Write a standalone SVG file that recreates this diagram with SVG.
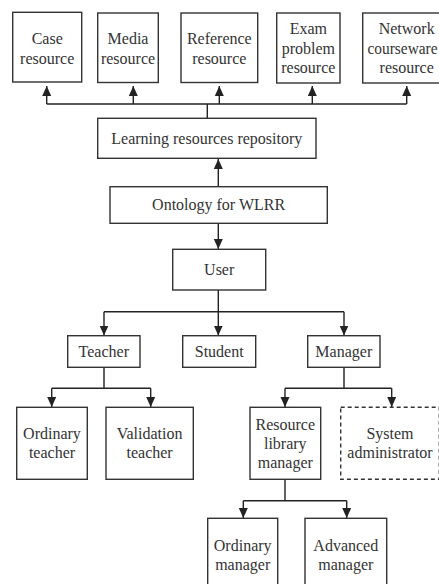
<svg xmlns="http://www.w3.org/2000/svg" width="439" height="584" viewBox="0 0 439 584">
<defs>
<marker id="ah" markerUnits="userSpaceOnUse" markerWidth="10" markerHeight="10" viewBox="0 0 10 10" refX="10" refY="5" orient="auto">
<path d="M0,0.5 L10,5 L0,9.5 Z" fill="#222"/>
</marker>
<style>
rect{fill:#fff;stroke:#333;stroke-width:1.4}
rect.dash{stroke-dasharray:4,3}
text{font-family:"Liberation Serif","Times New Roman",serif;font-size:16px;fill:#333;text-anchor:middle}
.c path{fill:none;stroke:#222;stroke-width:1.4}
</style>
</defs>
<rect x="0" y="0" width="439" height="584" style="fill:#fff;stroke:none"/>
<g class="c" id="connectors">
<path d="M46.7,104 H406.7"/>
<path d="M207.3,118.3 V104"/>
<path d="M46.7,104 V86" marker-end="url(#ah)"/>
<path d="M133.3,104 V86" marker-end="url(#ah)"/>
<path d="M219.3,104 V86" marker-end="url(#ah)"/>
<path d="M312.3,104 V86" marker-end="url(#ah)"/>
<path d="M406.7,104 V86" marker-end="url(#ah)"/>
<path d="M218.3,186.7 V159" marker-end="url(#ah)"/>
<path d="M218.3,223.3 V249" marker-end="url(#ah)"/>
<path d="M218.3,290 V335.5" marker-end="url(#ah)"/>
<path d="M104,311.7 H344"/>
<path d="M104,311.7 V335.5" marker-end="url(#ah)"/>
<path d="M344,311.7 V335.5" marker-end="url(#ah)"/>
<path d="M104,367.3 V388.3 M51.7,388.3 H150.7"/>
<path d="M51.7,388.3 V407" marker-end="url(#ah)"/>
<path d="M150.7,388.3 V407" marker-end="url(#ah)"/>
<path d="M344,367.3 V388.3 M285,388.3 H391.7"/>
<path d="M285,388.3 V407" marker-end="url(#ah)"/>
<path d="M391.7,388.3 V407" marker-end="url(#ah)"/>
<path d="M285,479.3 V500.7 M243.3,500.7 H346.7"/>
<path d="M243.3,500.7 V518" marker-end="url(#ah)"/>
<path d="M346.7,500.7 V518" marker-end="url(#ah)"/>
</g>
<g id="case"><rect x="12.7" y="12.3" width="69" height="69.7"/><text x="47.2" y="43.5">Case</text><text x="47.2" y="63.5">resource</text></g>
<g id="media"><rect x="97.7" y="13" width="60.6" height="69.5"/><text x="128" y="43.5">Media</text><text x="128" y="63.5">resource</text></g>
<g id="reference"><rect x="181" y="13" width="76.7" height="69.5"/><text x="219.3" y="43.5">Reference</text><text x="219.3" y="63.5">resource</text></g>
<g id="exam"><rect x="276.7" y="13" width="63.3" height="70"/><text x="308.3" y="34">Exam</text><text x="308.3" y="53.5">problem</text><text x="308.3" y="73">resource</text></g>
<g id="network"><rect x="362.7" y="13" width="88" height="70"/><text x="406.7" y="34">Network</text><text x="402.5" y="53.5" textLength="70" lengthAdjust="spacingAndGlyphs">courseware</text><text x="406.7" y="73">resource</text></g>
<g id="lrr"><rect x="97.7" y="118.3" width="218.3" height="40"/><text x="206.8" y="143.5">Learning resources repository</text></g>
<g id="ontology"><rect x="110" y="186.7" width="217.3" height="36.6"/><text x="218.6" y="209.5">Ontology for WLRR</text></g>
<g id="user"><rect x="172.7" y="249.3" width="93" height="40.7"/><text x="219.2" y="274.5">User</text></g>
<g id="teacher"><rect x="67.7" y="335.7" width="72.3" height="31.6"/><text x="103.8" y="356.5">Teacher</text></g>
<g id="student"><rect x="182.7" y="335.7" width="73" height="31.6"/><text x="219.2" y="356.5">Student</text></g>
<g id="manager"><rect x="307.7" y="335.7" width="72.3" height="31.6"/><text x="343.8" y="356.5">Manager</text></g>
<g id="ordinary-teacher"><rect x="16.7" y="407.3" width="70.6" height="72"/><text x="52" y="438.5">Ordinary</text><text x="52" y="458">teacher</text></g>
<g id="validation-teacher"><rect x="106" y="407.3" width="87.3" height="72"/><text x="149.6" y="438.5">Validation</text><text x="149.6" y="458">teacher</text></g>
<g id="rlm"><rect x="250" y="407.3" width="70.7" height="72"/><text x="285.3" y="429.5">Resource</text><text x="285.3" y="449">library</text><text x="285.3" y="468">manager</text></g>
<g id="sysadmin"><rect class="dash" x="340.7" y="407.3" width="98.6" height="72"/><text x="390" y="438.5">System</text><text x="390" y="458">administrator</text></g>
<g id="ordinary-manager"><rect x="207.7" y="518.3" width="70" height="75"/><text x="242.7" y="550.5">Ordinary</text><text x="242.7" y="569.5">manager</text></g>
<g id="advanced-manager"><rect x="305" y="518.3" width="81.7" height="75"/><text x="345.8" y="550.5">Advanced</text><text x="345.8" y="569.5">manager</text></g>
</svg>
